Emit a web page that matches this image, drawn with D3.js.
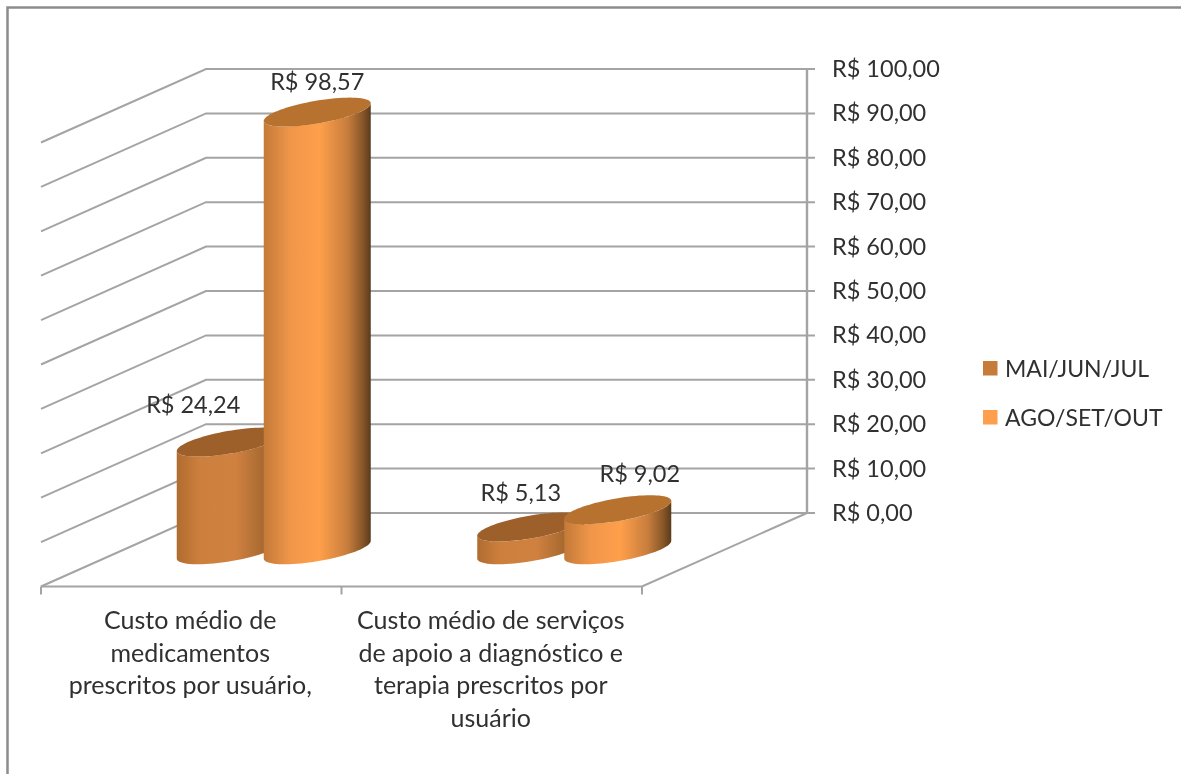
<!DOCTYPE html>
<html>
<head>
<meta charset="utf-8">
<script src="https://cdn.jsdelivr.net/npm/d3@7.9.0/dist/d3.min.js"></script>
<style>
html, body { margin: 0; padding: 0; background: #fff; }
svg { display: block; filter: blur(0.4px); }
text { font-family: Lato, "Open Sans", sans-serif; font-size: 23.5px; fill: #303030; font-variant-ligatures: none; }
.cat { font-size: 25px; }
.leg { font-size: 23px; }
</style>
</head>
<body>
<svg id="chart" width="1181" height="774"></svg>
<script>
const categories = [
    ["Custo médio de", "medicamentos", "prescritos por usuário,"],
    ["Custo médio de serviços", "de apoio a diagnóstico e", "terapia prescritos por", "usuário"]
];
const seriesNames = ["MAI/JUN/JUL", "AGO/SET/OUT"];
const maiJunJul = [24.24, 5.13];
const agoSetOut = [98.57, 9.02];
const valueLabels = [["R$ 24,24", "R$ 5,13"], ["R$ 98,57", "R$ 9,02"]];
const axisTicks = [0, 10, 20, 30, 40, 50, 60, 70, 80, 90, 100];

const svg = d3.select("#chart");
const gridColor = "#a4a4a4";

// chart frame, only top and left are visible in the original
svg.append("path")
    .attr("d", "M7.5,774V7.5H1181")
    .attr("fill", "none")
    .attr("stroke", "#8c8c8c")
    .attr("stroke-width", 2.5);

// 3d box
const depthX = 165, depthY = 73.5;
const x = d3.scaleBand().domain(d3.range(categories.length)).range([41, 642]);
const y = d3.scaleLinear().domain([0, 100]).range([513, 69]);
const backLeft = 41 + depthX, backRight = 642 + depthX;

const grid = svg.append("g").attr("stroke", gridColor).attr("stroke-width", 2).attr("fill", "none");
axisTicks.forEach(t => {
    grid.append("path")
        .attr("d", `M${backLeft - depthX},${y(t) + depthY}L${backLeft},${y(t)}H${backRight + 8}`);
});
grid.append("line").attr("x1", backRight).attr("x2", backRight).attr("y1", y(100)).attr("y2", y(0)).attr("stroke-width", 2.4);
grid.append("path").attr("d", `M41,${y(0) + depthY}H642L${backRight},${y(0)}`);
[0, 1, 2].forEach(i => {
    let tx = i < 2 ? x(i) : x(1) + x.bandwidth();
    grid.append("line").attr("x1", tx).attr("x2", tx).attr("y1", y(0) + depthY).attr("y2", y(0) + depthY + 8);
});

svg.append("g").selectAll("text").data(axisTicks).join("text")
    .attr("x", 832)
    .attr("y", d => y(d) + 8)
    .text(d => `R$ ${d},00`);

// category labels
categories.forEach((lines, i) => {
    svg.append("text")
        .attr("class", "cat")
        .attr("text-anchor", "middle")
        .selectAll("tspan").data(lines).join("tspan")
        .attr("x", x(i) + x.bandwidth() / 2 - 1)
        .attr("y", (d, j) => 629 + j * 32.6)
        .text(d => d);
});

// cylinders
const defs = svg.append("defs");
const gradients = [
    { id: "body0", stops: [[0, "#b06c30"], [0.22, "#cd803d"], [0.55, "#d08140"], [0.8, "#a96a31"], [1, "#70481f"]], top: "#9d602b" },
    { id: "body1", stops: [[0, "#c47a38"], [0.25, "#f0964a"], [0.52, "#ff9f4b"], [0.78, "#c87e3d"], [0.92, "#8a5829"], [1, "#5a3b1c"]], top: "#b8722f" }
];
gradients.forEach(g => {
    let grad = defs.append("linearGradient").attr("id", g.id);
    g.stops.forEach(s => grad.append("stop").attr("offset", s[0]).attr("stop-color", s[1]));
});

const halfWidth = 53.5, ry = 14.5;
const vx = ry * depthX / depthY;
const ux = Math.sqrt(halfWidth * halfWidth - vx * vx);
const offset = d3.scaleBand().domain([0, 1]).range([-87, 87]);
const ellipsePt = (cx, cy, a) => [cx + ux * Math.cos(a) + vx * Math.sin(a), cy - ry * Math.sin(a)];
const tangent = Math.atan2(vx, ux);
const line = d3.line();

function drawCylinder(i, s, value) {
    const cx = x(i) + x.bandwidth() / 2 + depthX / 2 + offset(s) + offset.bandwidth() / 2;
    const baseY = y(0) + depthY / 2;
    const topY = baseY - (y(0) - y(value));
    const g = gradients[s];

    // side: up the right silhouette, back over the near half of the top, down, near half of the base
    let pts = [];
    d3.range(0, 41).forEach(k => pts.push(ellipsePt(cx, topY, tangent - k / 40 * Math.PI)));
    d3.range(0, 41).forEach(k => pts.push(ellipsePt(cx, baseY, tangent - Math.PI + k / 40 * Math.PI)));
    svg.append("path")
        .attr("d", line(pts) + "Z")
        .attr("fill", `url(#${g.id})`);

    let cap = d3.range(0, 80).map(k => ellipsePt(cx, topY, k / 80 * 2 * Math.PI));
    svg.append("path")
        .attr("d", line(cap) + "Z")
        .attr("fill", g.top);
    return { cx, topY };
}

const labelNudge = [[[-37, -29], [-10, -26]], [[0, -22], [22, -28]]];
const series = [maiJunJul, agoSetOut];
const labelSpots = [];
categories.forEach((c, i) => {
    series.forEach((vals, s) => {
        let p = drawCylinder(i, s, vals[i]);
        labelSpots.push({ x: p.cx + labelNudge[s][i][0], y: p.topY + labelNudge[s][i][1], t: valueLabels[s][i] });
    });
});
svg.append("g").selectAll("text").data(labelSpots).join("text")
    .attr("text-anchor", "middle")
    .attr("x", d => d.x)
    .attr("y", d => d.y)
    .text(d => d.t);

// legend
const legend = svg.append("g").selectAll("g").data(seriesNames).join("g")
    .attr("transform", (d, i) => `translate(983,${361 + i * 49})`);
legend.append("rect").attr("width", 14.5).attr("height", 14.5)
    .attr("fill", (d, i) => i == 0 ? "#c77b3a" : "#ff9e4d");
legend.append("text").attr("class", "leg").attr("x", 22).attr("y", 16).text(d => d);
</script>
</body>
</html>
